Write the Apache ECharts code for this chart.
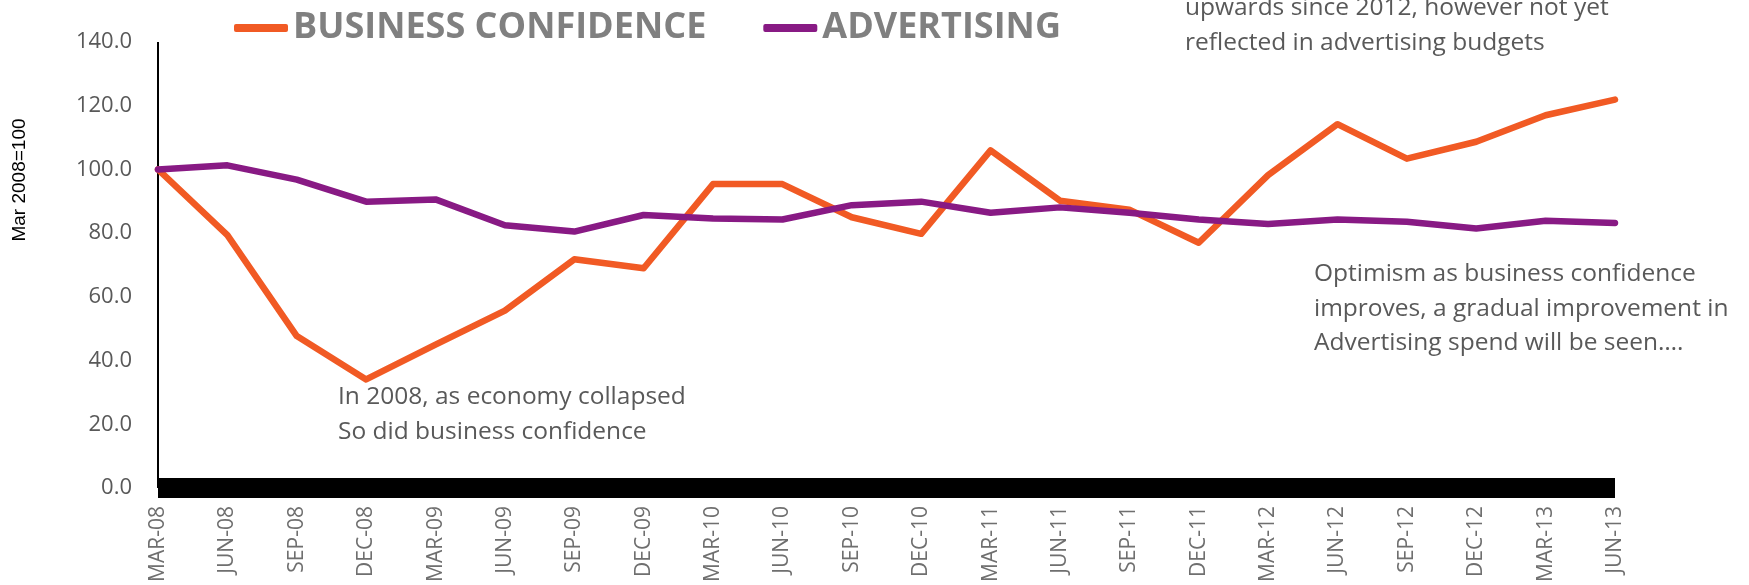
<!DOCTYPE html>
<html>
<head>
<meta charset="utf-8">
<script src="https://cdn.jsdelivr.net/npm/echarts@6/dist/echarts.min.js"></script>
<style>
html,body{margin:0;padding:0;background:#fff;}
#chart{width:1749px;height:585px;}
</style>
</head>
<body>
<div id="chart"></div>
<script>
var categories = ['MAR-08','JUN-08','SEP-08','DEC-08','MAR-09','JUN-09','SEP-09','DEC-09','MAR-10','JUN-10','SEP-10','DEC-10','MAR-11','JUN-11','SEP-11','DEC-11','MAR-12','JUN-12','SEP-12','DEC-12','MAR-13','JUN-13'];
var businessConfidence = [100, 79.4, 47.7, 34.1, 45.0, 55.7, 71.8, 69.0, 95.4, 95.4, 85.0, 79.8, 106.0, 90.2, 87.4, 77.0, 98.2, 114.2, 103.4, 108.7, 117.0, 121.9];
var advertising = [100, 101.3, 96.8, 89.9, 90.6, 82.5, 80.5, 85.7, 84.6, 84.3, 88.8, 89.9, 86.4, 88.1, 86.4, 84.3, 82.9, 84.3, 83.6, 81.5, 83.9, 83.2];
var yTicks = {min: 0, max: 140, interval: 20};
var seriesNames = ['BUSINESS CONFIDENCE', 'ADVERTISING'];
var yAxisName = 'Mar 2008=100';
var noteCollapse = ['In 2008, as economy collapsed', 'So did business confidence'];
var noteTrend = ['upwards since 2012, however not yet', 'reflected in advertising budgets'];
var noteOptimism = ['Optimism as business confidence', 'improves, a gradual improvement in', 'Advertising spend will be seen….'];

var FONT = '"Open Sans", "Noto Sans", sans-serif';
var chart = echarts.init(document.getElementById('chart'), null, {renderer: 'canvas'});
function noteText(x, y, lines) {
  return {
    type: 'text', left: x, top: y, silent: true,
    style: {text: lines.join('\n'), fill: '#595959', font: '24.5px ' + FONT, lineHeight: 34.5}
  };
}
chart.setOption({
  backgroundColor: '#ffffff',
  animation: false,
  grid: {left: 158, right: 134, top: 42, bottom: 95, containLabel: false},
  legend: {
    data: seriesNames,
    left: 229, top: 5,
    icon: 'roundRect',
    itemWidth: 54, itemHeight: 8, itemGap: 57,
    textStyle: {color: '#808080', fontSize: 36, fontWeight: 'bold', fontFamily: FONT}
  },
  xAxis: {
    type: 'category', data: categories, boundaryGap: false,
    axisLine: {show: true, lineStyle: {color: '#000', width: 20, cap: 'butt'}},
    axisTick: {show: false},
    splitLine: {show: false},
    axisLabel: {rotate: 90, margin: 18, color: '#6f6f6f', fontSize: 21, fontFamily: FONT, interval: 0}
  },
  yAxis: {
    type: 'value', min: yTicks.min, max: yTicks.max, interval: yTicks.interval,
    axisLine: {show: true, lineStyle: {color: '#000', width: 2, cap: 'butt'}},
    axisTick: {show: false},
    splitLine: {show: false},
    axisLabel: {margin: 26, color: '#595959', fontSize: 22, fontFamily: FONT, formatter: function (v) { return v.toFixed(1); }}
  },
  graphic: [
    {type: 'text', x: 20, y: 180, rotation: Math.PI / 2, silent: true,
     style: {text: yAxisName, fill: '#000', font: '19px "Liberation Sans Narrow", "Liberation Sans", Arial, sans-serif', align: 'center', verticalAlign: 'middle'}},
    noteText(338, 380, noteCollapse),
    noteText(1185, -9, noteTrend),
    noteText(1314, 257, noteOptimism)
  ],
  series: [
    {name: seriesNames[0], type: 'line', data: businessConfidence, symbol: 'none', smooth: false,
     lineStyle: {color: '#F15A24', width: 6.5, cap: 'round', join: 'round'}, itemStyle: {color: '#F15A24'}},
    {name: seriesNames[1], type: 'line', data: advertising, symbol: 'none', smooth: false,
     lineStyle: {color: '#881A84', width: 6.5, cap: 'round', join: 'round'}, itemStyle: {color: '#881A84'}}
  ]
});
</script>
</body>
</html>
